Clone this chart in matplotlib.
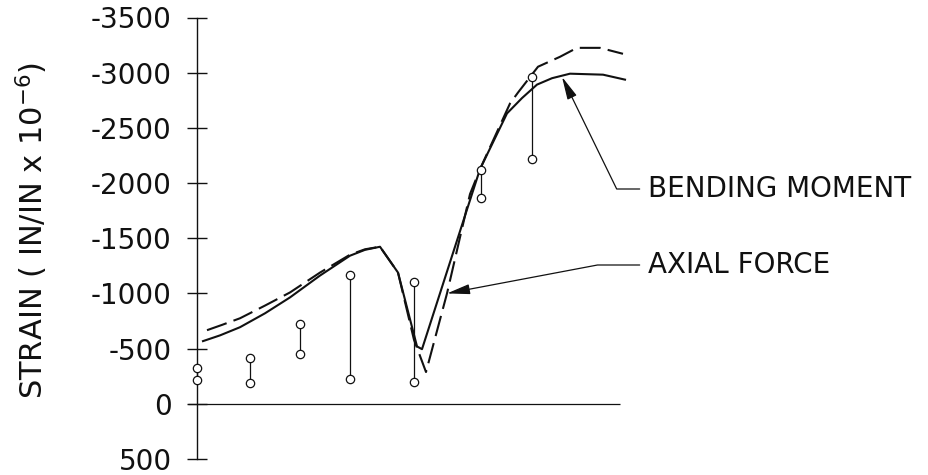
import matplotlib
matplotlib.use("Agg")
import matplotlib.pyplot as plt

plt.rcParams["font.family"] = ["DejaVu Sans"]
plt.rcParams["axes.unicode_minus"] = False

# station positions along the member (arbitrary units, axis at 0)
bm_x = [0.12, 0.46, 0.86, 1.36, 1.86, 2.46, 3.06, 3.36, 3.66, 4.02, 4.40, 4.50,
        5.66, 6.20, 6.50, 6.80, 7.10, 7.46, 8.12, 8.56]
bm_strain = [-568, -620, -694, -820, -964, -1162, -1342, -1395, -1423, -1189,
             -520, -495, -2126, -2631, -2770, -2892, -2950, -2991, -2982, -2937]

af_x = [0.20, 0.50, 0.86, 1.36, 1.86, 2.46, 3.06, 3.36, 3.66, 4.02, 4.34, 4.58,
        5.00, 5.46, 5.66, 6.26, 6.42, 6.82, 7.26, 7.60, 8.06, 8.52]
af_strain = [-667, -715, -775, -890, -1009, -1189, -1351, -1400, -1423, -1189,
             -580, -288, -1000, -1900, -2126, -2721, -2820, -3054, -3144, -3225,
             -3225, -3171]

# measured gauge readings: range of each station
gauge_x = [0.0, 1.06, 2.06, 3.06, 4.34, 5.68, 6.70]
gauge_low = [-215, -189, -450, -225, -198, -1865, -2216]
gauge_high = [-320, -414, -720, -1171, -1108, -2117, -2964]

yticks = [-3500, -3000, -2500, -2000, -1500, -1000, -500, 0, 500]
ytick_labels = ["-3500", "-3000", "-2500", "-2000", "-1500", "-1000", "-500", "0", "500"]

ink = "#111111"

fig = plt.figure(figsize=(9.29, 4.75), dpi=100)
ax = fig.add_axes([180 / 929, 16 / 475, 460 / 929, 441.5 / 475])
ax.set_xlim(-0.34, 8.86)
ax.set_ylim(500, -3500)

# axis: only the left spine, sitting at x=0
for side in ["top", "right", "bottom"]:
    ax.spines[side].set_visible(False)
ax.spines["left"].set_position(("data", 0))
ax.spines["left"].set_linewidth(1.0)
ax.spines["left"].set_color(ink)
ax.set_xticks([])
ax.set_yticks(yticks)
ax.set_yticklabels(ytick_labels)
ax.tick_params(axis="y", direction="inout", length=14.5, width=1.0, pad=11,
               labelsize=20, colors=ink)

# zero line
ax.hlines(0, -0.18, 8.46, color=ink, lw=0.9)

ax.plot(bm_x, bm_strain, color=ink, lw=1.5, solid_joinstyle="round")
ax.plot(af_x, af_strain, color=ink, lw=1.5, dashes=(10, 3.5))

ax.vlines(gauge_x, gauge_low, gauge_high, color=ink, lw=0.9)
ax.plot(gauge_x, gauge_low, "o", ms=6, mfc="white", mec=ink, mew=0.9, zorder=5)
ax.plot(gauge_x, gauge_high, "o", ms=6, mfc="white", mec=ink, mew=0.9, zorder=5)

arrow = dict(arrowstyle="-|>,head_length=1.0,head_width=0.22", mutation_scale=14,
             color=ink, lw=0.9, shrinkA=4, shrinkB=0)
ax.annotate("BENDING MOMENT", xy=(7.3, -2962), xycoords="data",
            xytext=(648, 286), textcoords="figure pixels",
            ha="left", va="center", fontsize=20, color=ink, annotation_clip=False,
            arrowprops=dict(arrow, connectionstyle="angle,angleA=0,angleB=116,rad=0"))
ax.annotate("AXIAL FORCE", xy=(5.0, -1000), xycoords="data",
            xytext=(648, 210), textcoords="figure pixels",
            ha="left", va="center", fontsize=20, color=ink, annotation_clip=False,
            arrowprops=dict(arrow, connectionstyle="angle,angleA=0,angleB=10.7,rad=0"))

fig.text(32 / 929, 1 - 230 / 475, r"STRAIN ( IN/IN x 10$^{-6}$)", rotation=90,
         ha="center", va="center", fontsize=22, color=ink)

fig.savefig("out.png", dpi=100, facecolor="white")
